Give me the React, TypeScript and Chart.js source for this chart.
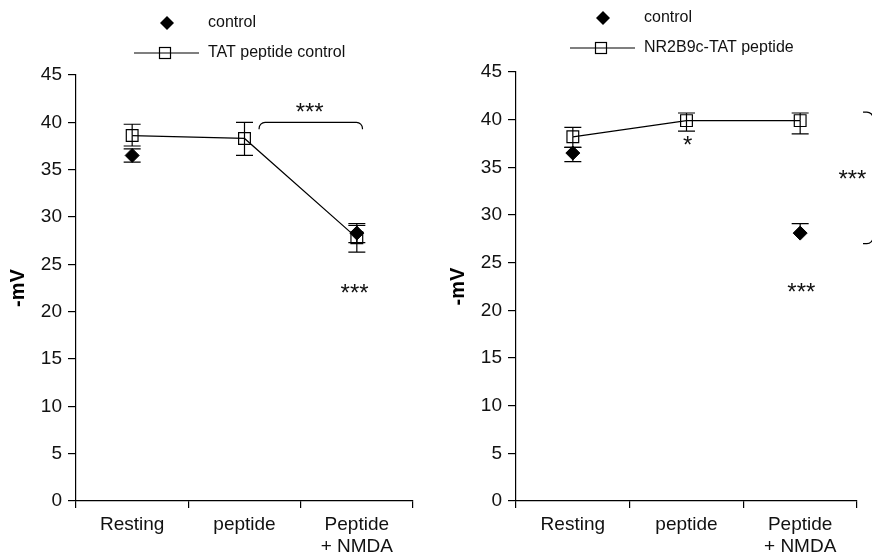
import React, { useEffect, useRef } from 'react';
import { Chart, registerables } from 'chart.js';

Chart.register(...registerables);

const FONT = "'Liberation Sans', Arial, Helvetica, sans-serif";

// ---- data ----
const categories: (string | string[])[] = ['Resting', 'peptide', ['Peptide', '+ NMDA']];
const yMin = 0;
const yMax = 45;
const yStep = 5;

// left panel
const leftControl = [36.5, null, 28.3];
const leftControlLow = [35.8, null, 27.3];
const leftControlHigh = [37.2, null, 29.1];
const leftTat = [38.6, 38.3, 27.8];
const leftTatLow = [37.5, 36.5, 26.3];
const leftTatHigh = [39.8, 40.0, 29.3];
const leftLegend = ['control', 'TAT peptide control'];

// right panel
const rightControl = [36.5, null, 28.1];
const rightControlLow = [35.6, null, 28.1];
const rightControlHigh = [37.1, null, 29.1];
const rightTat = [38.2, 39.9, 39.9];
const rightTatLow = [37.1, 38.8, 38.5];
const rightTatHigh = [39.2, 40.7, 40.7];
const rightLegend = ['control', 'NR2B9c-TAT peptide'];

// annotations (x in category index units, y in mV)
const leftStars = [
  { x: 1.58, y: 41.6, text: '***' },
  { x: 1.98, y: 22.4, text: '***' },
];
const rightStars = [
  { x: 1.01, y: 37.8, text: '*' },
  { x: 2.01, y: 22.4, text: '***' },
  { x: 2.46, y: 34.2, text: '***' },
];

type Star = { x: number; y: number; text: string };

type PanelCfg = {
  control: (number | null)[];
  controlLow: (number | null)[];
  controlHigh: (number | null)[];
  tat: (number | null)[];
  tatLow: (number | null)[];
  tatHigh: (number | null)[];
  legend: string[];
  yWidth: number;
  padTop: number;
  padRight: number;
  legendY: [number, number];
  titleX: number;
  stars: Star[];
  bracket: 'horizontal' | 'vertical';
};

function drawStars(ctx: CanvasRenderingContext2D, chart: any, stars: Star[]) {
  const xs = chart.scales.x;
  const ys = chart.scales.y;
  ctx.save();
  ctx.fillStyle = '#111';
  ctx.font = `24px ${FONT}`;
  ctx.textAlign = 'center';
  ctx.textBaseline = 'alphabetic';
  for (const s of stars) {
    const px = xs.getPixelForValue(s.x);
    const py = ys.getPixelForValue(s.y);
    const m = ctx.measureText(s.text);
    const asc = m.actualBoundingBoxAscent;
    const desc = m.actualBoundingBoxDescent;
    ctx.fillText(s.text, px, py + (asc - desc) / 2);
  }
  ctx.restore();
}

function makePlugin(cfg: PanelCfg) {
  return {
    id: 'panelExtras',
    afterDatasetsDraw(chart: any) {
      const ctx: CanvasRenderingContext2D = chart.ctx;
      const xs = chart.scales.x;
      const ys = chart.scales.y;
      const sets = [
        { low: cfg.controlLow, high: cfg.controlHigh, val: cfg.control },
        { low: cfg.tatLow, high: cfg.tatHigh, val: cfg.tat },
      ];
      ctx.save();
      ctx.strokeStyle = '#000';
      ctx.lineWidth = 1.2;
      const cap = 8.5;
      for (const s of sets) {
        for (let i = 0; i < s.val.length; i++) {
          const v = s.val[i];
          if (v == null) continue;
          const px = xs.getPixelForValue(i);
          const lo = s.low[i];
          const hi = s.high[i];
          const pv = ys.getPixelForValue(v);
          if (hi != null && hi !== v) {
            const ph = ys.getPixelForValue(hi);
            ctx.beginPath();
            ctx.moveTo(px, pv);
            ctx.lineTo(px, ph);
            ctx.moveTo(px - cap, ph);
            ctx.lineTo(px + cap, ph);
            ctx.stroke();
          }
          if (lo != null && lo !== v) {
            const pl = ys.getPixelForValue(lo);
            ctx.beginPath();
            ctx.moveTo(px, pv);
            ctx.lineTo(px, pl);
            ctx.moveTo(px - cap, pl);
            ctx.lineTo(px + cap, pl);
            ctx.stroke();
          }
        }
      }
      ctx.restore();
    },
    afterDraw(chart: any) {
      const ctx: CanvasRenderingContext2D = chart.ctx;
      const xs = chart.scales.x;
      const ys = chart.scales.y;
      // legend
      ctx.save();
      const lx = 167;
      const [ly1, ly2] = cfg.legendY;
      ctx.fillStyle = '#000';
      ctx.beginPath();
      const d = 7;
      ctx.moveTo(lx, ly1 - d);
      ctx.lineTo(lx + d, ly1);
      ctx.lineTo(lx, ly1 + d);
      ctx.lineTo(lx - d, ly1);
      ctx.closePath();
      ctx.fill();
      ctx.strokeStyle = '#000';
      ctx.lineWidth = 1.2;
      ctx.beginPath();
      ctx.moveTo(134, ly2);
      ctx.lineTo(199, ly2);
      ctx.stroke();
      ctx.strokeRect(lx - 2 - 5.5, ly2 - 5.5, 11, 11);
      ctx.font = `16px ${FONT}`;
      ctx.fillStyle = '#111';
      ctx.textAlign = 'left';
      ctx.textBaseline = 'middle';
      ctx.fillText(cfg.legend[0], 208, ly1);
      ctx.fillText(cfg.legend[1], 208, ly2);
      ctx.restore();

      // y title
      ctx.save();
      ctx.translate(cfg.titleX, ys.getPixelForValue(22.5));
      ctx.rotate(-Math.PI / 2);
      ctx.font = `bold 20px ${FONT}`;
      ctx.fillStyle = '#000';
      ctx.textAlign = 'center';
      ctx.textBaseline = 'middle';
      ctx.fillText('-mV', 0, 0);
      ctx.restore();

      // brackets
      ctx.save();
      ctx.strokeStyle = '#000';
      ctx.lineWidth = 1.2;
      if (cfg.bracket === 'horizontal') {
        const x1 = xs.getPixelForValue(1.13);
        const x2 = xs.getPixelForValue(2.05);
        const y = ys.getPixelForValue(40.0);
        const drop = 7;
        ctx.beginPath();
        ctx.moveTo(x1, y + drop);
        ctx.arcTo(x1, y, x1 + drop, y, 6);
        ctx.lineTo(x2 - drop, y);
        ctx.arcTo(x2, y, x2, y + drop, 6);
        ctx.lineTo(x2, y + drop);
        ctx.stroke();
      } else {
        const x1 = xs.getPixelForValue(2.553);
        const x2 = xs.getPixelForValue(2.64);
        const yt = ys.getPixelForValue(40.8);
        const yb = ys.getPixelForValue(27.0);
        ctx.beginPath();
        ctx.moveTo(x1, yt);
        ctx.arcTo(x2, yt, x2, yt + 8, 6);
        ctx.lineTo(x2, yb - 8);
        ctx.arcTo(x2, yb, x1, yb, 6);
        ctx.lineTo(x1, yb);
        ctx.stroke();
      }
      ctx.restore();

      drawStars(ctx, chart, cfg.stars);
    },
  };
}

function buildChart(canvas: HTMLCanvasElement, cfg: PanelCfg) {
  return new Chart(canvas, {
    type: 'line',
    data: {
      labels: categories as any,
      datasets: [
        {
          label: cfg.legend[0],
          data: cfg.control as any,
          showLine: false,
          pointStyle: 'rectRot',
          pointRadius: 7,
          pointBackgroundColor: '#000',
          pointBorderColor: '#000',
          pointBorderWidth: 1,
          borderColor: '#000',
          backgroundColor: '#000',
        },
        {
          label: cfg.legend[1],
          data: cfg.tat as any,
          showLine: true,
          borderColor: '#000',
          borderWidth: 1.2,
          pointStyle: 'rect',
          pointRadius: 8.3,
          pointBackgroundColor: 'rgba(0,0,0,0)',
          pointBorderColor: '#000',
          pointBorderWidth: 1.2,
          backgroundColor: 'rgba(0,0,0,0)',
          tension: 0,
        },
      ],
    },
    options: {
      animation: false,
      responsive: false,
      devicePixelRatio: 1,
      layout: { padding: { left: 0, right: cfg.padRight, top: cfg.padTop, bottom: 0 } },
      plugins: { legend: { display: false }, tooltip: { enabled: false } },
      events: [],
      scales: {
        x: {
          type: 'category',
          offset: true,
          grid: {
            offset: true,
            drawOnChartArea: false,
            drawTicks: true,
            tickLength: 7,
            color: '#000',
            tickColor: '#000',
            lineWidth: 1.2,
          },
          border: { display: true, color: '#000', width: 1.2 },
          ticks: {
            color: '#111',
            font: { size: 19, family: FONT },
            padding: 5,
            maxRotation: 0,
            autoSkip: false,
          },
          afterFit: (s: any) => {
            s.height = 52;
          },
        },
        y: {
          type: 'linear',
          min: yMin,
          max: yMax,
          grid: {
            drawOnChartArea: false,
            drawTicks: true,
            tickLength: 8,
            color: '#000',
            tickColor: '#000',
            lineWidth: 1.2,
          },
          border: { display: true, color: '#000', width: 1.2 },
          ticks: {
            stepSize: yStep,
            color: '#111',
            font: { size: 19, family: FONT },
            padding: 6,
          },
          afterFit: (s: any) => {
            s.width = cfg.yWidth;
          },
        },
      },
    } as any,
    plugins: [makePlugin(cfg)],
  });
}

const leftCfg: PanelCfg = {
  control: leftControl,
  controlLow: leftControlLow,
  controlHigh: leftControlHigh,
  tat: leftTat,
  tatLow: leftTatLow,
  tatHigh: leftTatHigh,
  legend: leftLegend,
  yWidth: 76,
  padTop: 75,
  padRight: 23,
  legendY: [23, 53],
  titleX: 18,
  stars: leftStars,
  bracket: 'horizontal',
};

const rightCfg: PanelCfg = {
  control: rightControl,
  controlLow: rightControlLow,
  controlHigh: rightControlHigh,
  tat: rightTat,
  tatLow: rightTatLow,
  tatHigh: rightTatHigh,
  legend: rightLegend,
  yWidth: 80,
  padTop: 72,
  padRight: 15,
  legendY: [18, 48],
  titleX: 22,
  stars: rightStars,
  bracket: 'vertical',
};

function Panel({ cfg, left }: { cfg: PanelCfg; left: number }) {
  const ref = useRef<HTMLCanvasElement | null>(null);
  useEffect(() => {
    if (!ref.current) return;
    const chart = buildChart(ref.current, cfg);
    return () => chart.destroy();
  }, [cfg]);
  return (
    <canvas
      ref={ref}
      width={436}
      height={553}
      style={{ position: 'absolute', left, top: 0, width: 436, height: 553, display: 'block' }}
    />
  );
}

export default function App() {
  return (
    <div
      style={{
        position: 'absolute',
        left: 0,
        top: 0,
        width: 872,
        height: 553,
        background: '#fff',
        overflow: 'hidden',
      }}
    >
      <Panel cfg={leftCfg} left={0} />
      <Panel cfg={rightCfg} left={436} />
    </div>
  );
}
